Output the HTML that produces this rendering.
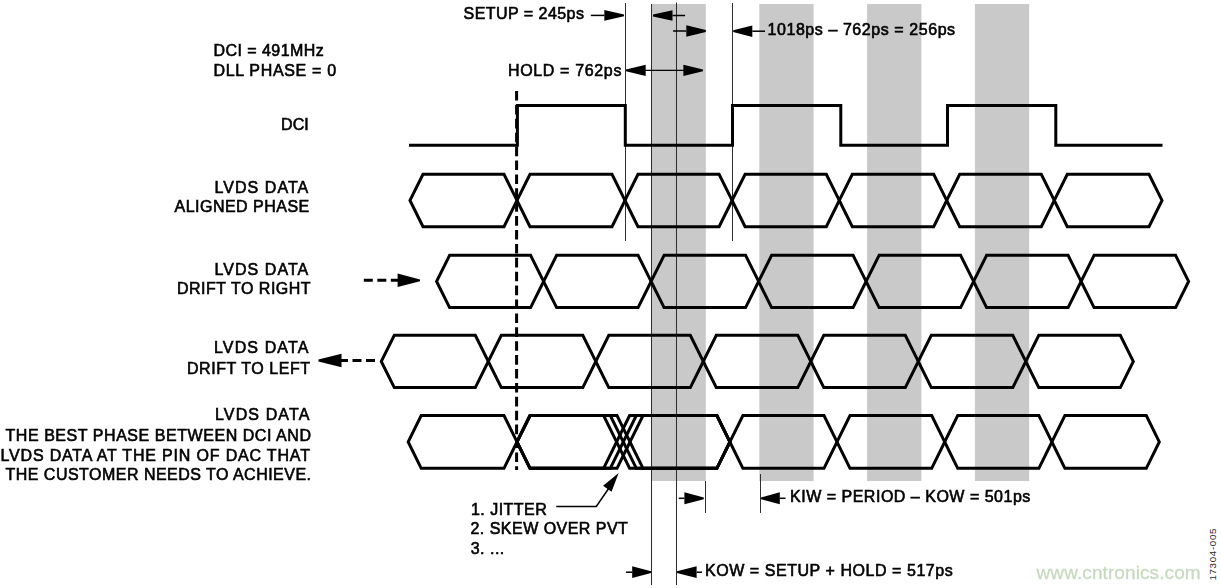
<!DOCTYPE html>
<html><head><meta charset="utf-8"><style>
html,body{margin:0;padding:0;background:#fff;width:1221px;height:588px;overflow:hidden}
svg{display:block} text{will-change:transform}
</style></head><body>
<svg width="1221" height="588" viewBox="0 0 1221 588">
<rect x="651.5" y="4" width="54.3" height="477" fill="#c9c9c9"/>
<rect x="759.3" y="4" width="54.3" height="477" fill="#c9c9c9"/>
<rect x="867.1" y="4" width="54.3" height="477" fill="#c9c9c9"/>
<rect x="974.9" y="4" width="54.3" height="477" fill="#c9c9c9"/>
<line x1="625.5" y1="3" x2="625.5" y2="241" stroke="#303030" stroke-width="1.05"/>
<line x1="651.5" y1="4" x2="651.5" y2="585" stroke="#303030" stroke-width="1.05"/>
<line x1="676.5" y1="2.5" x2="676.5" y2="585" stroke="#303030" stroke-width="1.05"/>
<line x1="732.5" y1="3" x2="732.5" y2="241" stroke="#303030" stroke-width="1.05"/>
<line x1="705.5" y1="481" x2="705.5" y2="513" stroke="#303030" stroke-width="1.05"/>
<line x1="760.5" y1="474" x2="760.5" y2="513" stroke="#303030" stroke-width="1.05"/>
<path d="M409,145.3 L517.4,145.3 L517.4,105.5 L625.3,105.5 L625.3,145.3 L732.5,145.3 L732.5,105.5 L840.8,105.5 L840.8,145.3 L947.5,145.3 L947.5,105.5 L1055.8,105.5 L1055.8,145.3 L1162.5,145.3" fill="none" stroke="#000" stroke-width="3.0" stroke-linejoin="miter"/>
<g fill="none" stroke="#000" stroke-width="3.0" stroke-linejoin="miter"><path d="M410,200.45 L423.0,174.25 L504.0,174.25 L517,200.45 L504.0,226.64999999999998 L423.0,226.64999999999998 Z"/><path d="M517,200.45 L530.0,174.25 L612.0,174.25 L625.0,200.45 L612.0,226.64999999999998 L530.0,226.64999999999998 Z"/><path d="M625.0,200.45 L638.0,174.25 L719.1,174.25 L732.1,200.45 L719.1,226.64999999999998 L638.0,226.64999999999998 Z"/><path d="M732.1,200.45 L745.1,174.25 L826.3,174.25 L839.3,200.45 L826.3,226.64999999999998 L745.1,226.64999999999998 Z"/><path d="M839.3,200.45 L852.3,174.25 L933.7,174.25 L946.7,200.45 L933.7,226.64999999999998 L852.3,226.64999999999998 Z"/><path d="M946.7,200.45 L959.7,174.25 L1041.3,174.25 L1054.3,200.45 L1041.3,226.64999999999998 L959.7,226.64999999999998 Z"/><path d="M1054.3,200.45 L1067.3,174.25 L1149.0,174.25 L1162,200.45 L1149.0,226.64999999999998 L1067.3,226.64999999999998 Z"/><path d="M436.6,281.45 L449.6,255.35 L530.6,255.35 L543.6,281.45 L530.6,307.55 L449.6,307.55 Z"/><path d="M543.6,281.45 L556.6,255.35 L638.1,255.35 L651.1,281.45 L638.1,307.55 L556.6,307.55 Z"/><path d="M651.1,281.45 L664.1,255.35 L745.6,255.35 L758.6,281.45 L745.6,307.55 L664.1,307.55 Z"/><path d="M758.6,281.45 L771.6,255.35 L853.1,255.35 L866.1,281.45 L853.1,307.55 L771.6,307.55 Z"/><path d="M866.1,281.45 L879.1,255.35 L960.6,255.35 L973.6,281.45 L960.6,307.55 L879.1,307.55 Z"/><path d="M973.6,281.45 L986.6,255.35 L1068.1,255.35 L1081.1,281.45 L1068.1,307.55 L986.6,307.55 Z"/><path d="M1081.1,281.45 L1094.1,255.35 L1175.6,255.35 L1188.6,281.45 L1175.6,307.55 L1094.1,307.55 Z"/><path d="M381.3,361.45 L394.3,335.34999999999997 L475.3,335.34999999999997 L488.3,361.45 L475.3,387.55 L394.3,387.55 Z"/><path d="M488.3,361.45 L501.3,335.34999999999997 L582.8,335.34999999999997 L595.8,361.45 L582.8,387.55 L501.3,387.55 Z"/><path d="M595.8,361.45 L608.8,335.34999999999997 L690.3,335.34999999999997 L703.3,361.45 L690.3,387.55 L608.8,387.55 Z"/><path d="M703.3,361.45 L716.3,335.34999999999997 L797.8,335.34999999999997 L810.8,361.45 L797.8,387.55 L716.3,387.55 Z"/><path d="M810.8,361.45 L823.8,335.34999999999997 L905.3,335.34999999999997 L918.3,361.45 L905.3,387.55 L823.8,387.55 Z"/><path d="M918.3,361.45 L931.3,335.34999999999997 L1012.8,335.34999999999997 L1025.8,361.45 L1012.8,387.55 L931.3,387.55 Z"/><path d="M1025.8,361.45 L1038.8,335.34999999999997 L1120.3,335.34999999999997 L1133.3,361.45 L1120.3,387.55 L1038.8,387.55 Z"/><path d="M408.2,441.9 L421.2,415.5 L504.0,415.5 L517,441.9 L504.0,468.29999999999995 L421.2,468.29999999999995 Z"/><path d="M517,441.9 L530.0,415.5 L603.6,415.5 L616.6,441.9 L603.6,468.29999999999995 L530.0,468.29999999999995 Z"/><path d="M517,441.9 L530.0,415.5 L610.3,415.5 L623.3,441.9 L610.3,468.29999999999995 L530.0,468.29999999999995 Z"/><path d="M517,441.9 L530.0,415.5 L617.0,415.5 L630.0,441.9 L617.0,468.29999999999995 L530.0,468.29999999999995 Z"/><path d="M616.6,441.9 L629.6,415.5 L716.9,415.5 L729.9,441.9 L716.9,468.29999999999995 L629.6,468.29999999999995 Z"/><path d="M623.3,441.9 L636.3,415.5 L716.9,415.5 L729.9,441.9 L716.9,468.29999999999995 L636.3,468.29999999999995 Z"/><path d="M630.0,441.9 L643.0,415.5 L716.9,415.5 L729.9,441.9 L716.9,468.29999999999995 L643.0,468.29999999999995 Z"/><path d="M729.9,441.9 L742.9,415.5 L824.0,415.5 L837.0,441.9 L824.0,468.29999999999995 L742.9,468.29999999999995 Z"/><path d="M837.0,441.9 L850.0,415.5 L931.7,415.5 L944.7,441.9 L931.7,468.29999999999995 L850.0,468.29999999999995 Z"/><path d="M944.7,441.9 L957.7,415.5 L1038.9,415.5 L1051.9,441.9 L1038.9,468.29999999999995 L957.7,468.29999999999995 Z"/><path d="M1051.9,441.9 L1064.9,415.5 L1146.3,415.5 L1159.3,441.9 L1146.3,468.29999999999995 L1064.9,468.29999999999995 Z"/></g>
<line x1="516.6" y1="91" x2="516.6" y2="470" stroke="#000" stroke-width="3" stroke-dasharray="9.6 4.3"/>
<path d="M624,14.5 L604.3,10.05 L604.3,20.75 L624,16.3 Z" fill="#000"/><line x1="590.8" y1="15.4" x2="604.3" y2="15.4" stroke="#000" stroke-width="1.5"/>
<path d="M653,14.6 L672.5,10.2 L672.5,20.8 L653,16.4 Z" fill="#000"/><line x1="685.1" y1="15.5" x2="672.5" y2="15.5" stroke="#000" stroke-width="1.5"/>
<path d="M705.8,30.1 L686.3,25.2 L686.3,36.8 L705.8,31.9 Z" fill="#000"/><line x1="673" y1="31" x2="686.3" y2="31" stroke="#000" stroke-width="1.5"/>
<path d="M733.2,30.3 L752.3,25.4 L752.3,37.0 L733.2,32.1 Z" fill="#000"/><line x1="765" y1="31.2" x2="752.3" y2="31.2" stroke="#000" stroke-width="1.5"/>
<path d="M626,69.39999999999999 L645.7,64.7 L645.7,75.89999999999999 L626,71.2 Z" fill="#000"/>
<line x1="645" y1="70.3" x2="684" y2="70.3" stroke="#000" stroke-width="1.25"/>
<path d="M703,69.39999999999999 L683.4,64.7 L683.4,75.89999999999999 L703,71.2 Z" fill="#000"/>
<line x1="363.8" y1="280.3" x2="398" y2="280.3" stroke="#000" stroke-width="3" stroke-dasharray="9 4.5"/>
<path d="M420,279.40000000000003 L397.6,273.6 L397.6,287.0 L420,281.2 Z" fill="#000"/>
<line x1="375" y1="360.5" x2="341" y2="360.5" stroke="#000" stroke-width="3" stroke-dasharray="9 4.5"/>
<path d="M318.4,359.6 L341.5,353.7 L341.5,367.3 L318.4,361.4 Z" fill="#000"/>
<polyline points="556.3,506.4 596.3,506.4 609,488" fill="none" stroke="#000" stroke-width="1.5"/>
<path d="M618.7,472.9 L603.1,485.8 L611.5,491.8 Z" fill="#000"/>
<path d="M703.8,497.40000000000003 L684.4,492.3 L684.4,504.3 L703.8,499.2 Z" fill="#000"/><line x1="678.8" y1="498.3" x2="684.4" y2="498.3" stroke="#000" stroke-width="1.5"/>
<path d="M761,497.40000000000003 L779.8,492.3 L779.8,504.3 L761,499.2 Z" fill="#000"/><line x1="785.5" y1="498.3" x2="779.8" y2="498.3" stroke="#000" stroke-width="1.5"/>
<path d="M651,571.3000000000001 L632.2,566.3000000000001 L632.2,578.1 L651,573.1 Z" fill="#000"/><line x1="625.9" y1="572.2" x2="632.2" y2="572.2" stroke="#000" stroke-width="1.5"/>
<path d="M677,571.3000000000001 L696.6,566.3000000000001 L696.6,578.1 L677,573.1 Z" fill="#000"/><line x1="702" y1="572.2" x2="696.6" y2="572.2" stroke="#000" stroke-width="1.5"/>
<g font-family="Liberation Sans, sans-serif"><text x="213.5" y="55.7" text-anchor="start" font-size="16" letter-spacing="0.445" fill="#000" stroke="#000" stroke-width="0.6" >DCI = 491MHz</text><text x="213.5" y="75.5" text-anchor="start" font-size="16" letter-spacing="0.667" fill="#000" stroke="#000" stroke-width="0.6" >DLL PHASE = 0</text><text x="281.0" y="129.8" text-anchor="start" font-size="16" letter-spacing="0.1" fill="#000" stroke="#000" stroke-width="0.6" >DCI</text><text x="214.5" y="192.8" text-anchor="start" font-size="16" letter-spacing="1.05" fill="#000" stroke="#000" stroke-width="0.6" >LVDS DATA</text><text x="174.5" y="212.4" text-anchor="start" font-size="16" letter-spacing="0.483" fill="#000" stroke="#000" stroke-width="0.6" >ALIGNED PHASE</text><text x="214.5" y="275.0" text-anchor="start" font-size="16" letter-spacing="1.05" fill="#000" stroke="#000" stroke-width="0.6" >LVDS DATA</text><text x="177.0" y="294.4" text-anchor="start" font-size="16" letter-spacing="0.5" fill="#000" stroke="#000" stroke-width="0.6" >DRIFT TO RIGHT</text><text x="214.0" y="353.1" text-anchor="start" font-size="16" letter-spacing="1.125" fill="#000" stroke="#000" stroke-width="0.6" >LVDS DATA</text><text x="187.0" y="373.5" text-anchor="start" font-size="16" letter-spacing="0.55" fill="#000" stroke="#000" stroke-width="0.6" >DRIFT TO LEFT</text><text x="215.0" y="420.3" text-anchor="start" font-size="16" letter-spacing="1.125" fill="#000" stroke="#000" stroke-width="0.6" >LVDS DATA</text><text x="5.5" y="440.5" text-anchor="start" font-size="16" letter-spacing="0.548" fill="#000" stroke="#000" stroke-width="0.6" >THE BEST PHASE BETWEEN DCI AND</text><text x="0.5" y="461.2" text-anchor="start" font-size="16" letter-spacing="0.823" fill="#000" stroke="#000" stroke-width="0.6" >LVDS DATA AT THE PIN OF DAC THAT</text><text x="5.5" y="480.3" text-anchor="start" font-size="16" letter-spacing="0.479" fill="#000" stroke="#000" stroke-width="0.6" >THE CUSTOMER NEEDS TO ACHIEVE.</text><text x="463.5" y="18.7" text-anchor="start" font-size="16" letter-spacing="0.467" fill="#000" stroke="#000" stroke-width="0.6" >SETUP = 245ps</text><text x="508.0" y="75.5" text-anchor="start" font-size="16" letter-spacing="0.645" fill="#000" stroke="#000" stroke-width="0.6" >HOLD = 762ps</text><text x="767.5" y="35.4" text-anchor="start" font-size="16" letter-spacing="0.567" fill="#000" stroke="#000" stroke-width="0.6" >1018ps – 762ps = 256ps</text><text x="471.0" y="514.8" text-anchor="start" font-size="16" letter-spacing="0.475" fill="#000" stroke="#000" stroke-width="0.6" >1. JITTER</text><text x="470.5" y="533.5" text-anchor="start" font-size="16" letter-spacing="0.473" fill="#000" stroke="#000" stroke-width="0.6" >2. SKEW OVER PVT</text><text x="470.7" y="553.9" text-anchor="start" font-size="16" letter-spacing="0.5" fill="#000" stroke="#000" stroke-width="0.6" >3. ...</text><text x="790.0" y="501.8" text-anchor="start" font-size="16" letter-spacing="0.508" fill="#000" stroke="#000" stroke-width="0.6" >KIW = PERIOD – KOW = 501ps</text><text x="705.0" y="575.5" text-anchor="start" font-size="16" letter-spacing="0.548" fill="#000" stroke="#000" stroke-width="0.6" >KOW = SETUP + HOLD = 517ps</text><text x="1036.5" y="579" text-anchor="start" font-size="19" letter-spacing="0.1" fill="#c8d9c2" stroke="#c8d9c2" stroke-width="0.3" >www.cntronics.com</text><text x="0" y="0" text-anchor="start" font-size="9.8" letter-spacing="0.65" fill="#2a2a2a" stroke="#2a2a2a" stroke-width="0" style="will-change:auto" transform="translate(1216.3,580.6) rotate(-90)">17304-005</text></g>
</svg>
</body></html>
